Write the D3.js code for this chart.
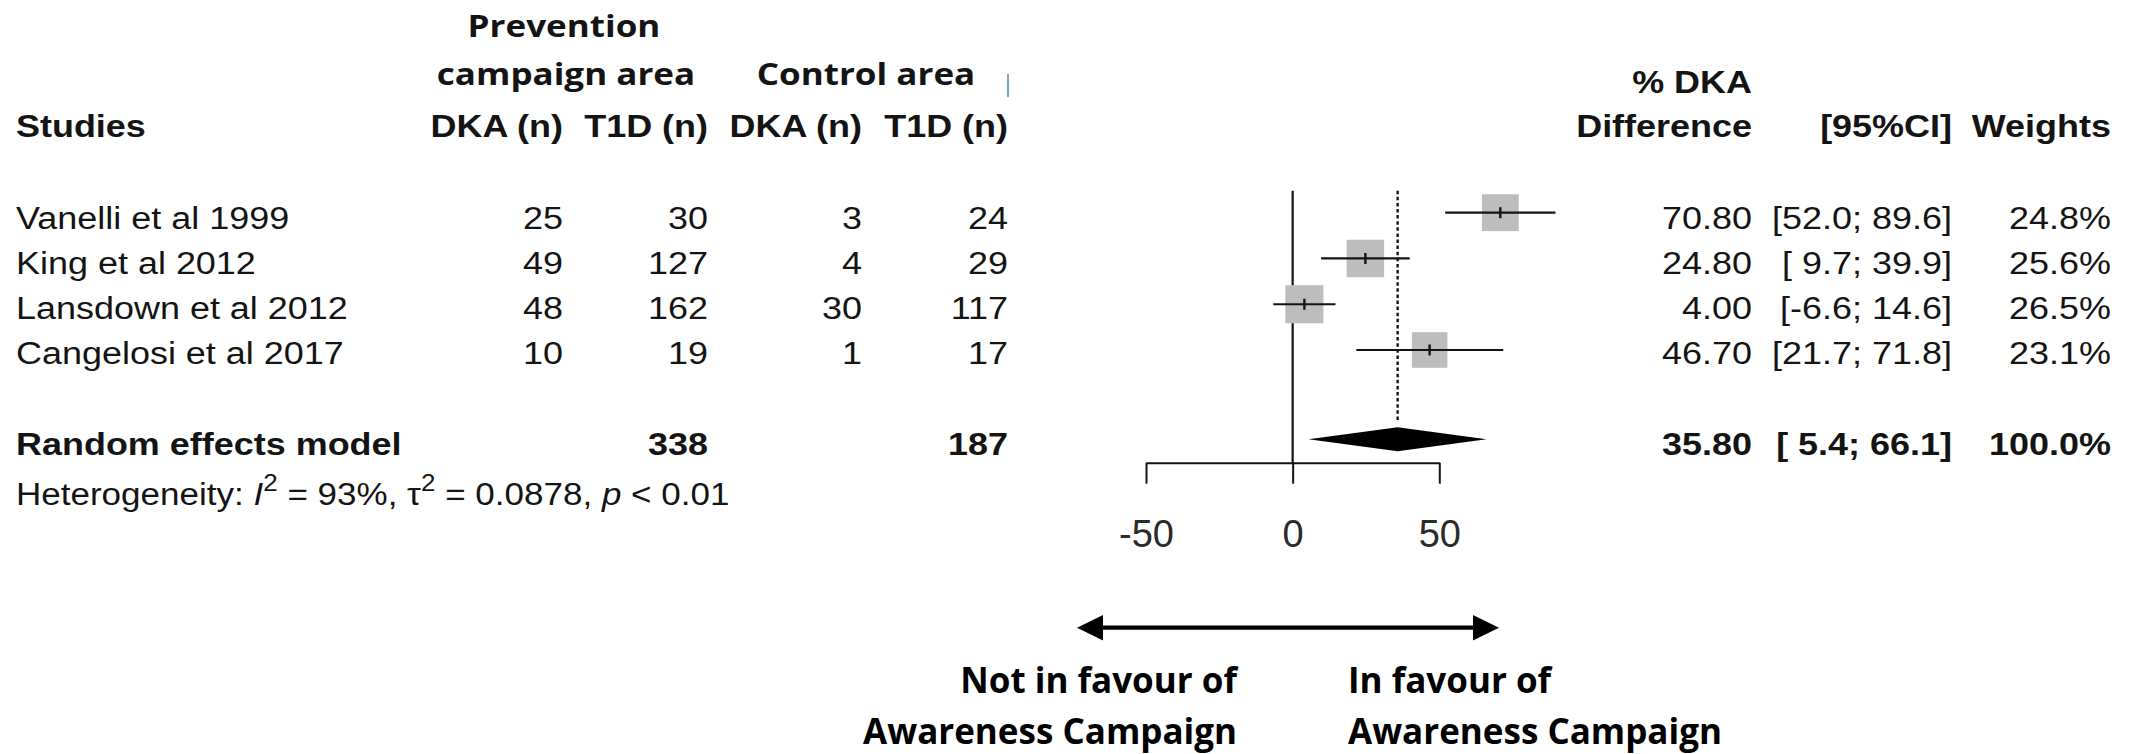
<!DOCTYPE html>
<html>
<head>
<meta charset="utf-8">
<script src="https://cdn.jsdelivr.net/npm/d3@7/dist/d3.min.js"></script>
<style>
  html, body { margin: 0; padding: 0; background: #ffffff; }
  svg { display: block; }
</style>
</head>
<body>
<script>
// ---- Study-level data -------------------------------------------------
const studies      = ["Vanelli et al 1999", "King et al 2012", "Lansdown et al 2012", "Cangelosi et al 2017"];
const dkaCampaign  = [25, 49, 48, 10];
const t1dCampaign  = [30, 127, 162, 19];
const dkaControl   = [3, 4, 30, 1];
const t1dControl   = [24, 29, 117, 17];
const diffEstimate = [70.80, 24.80, 4.00, 46.70];
const ciLower      = [52.0, 9.7, -6.6, 21.7];
const ciUpper      = [89.6, 39.9, 14.6, 71.8];
const weights      = [24.8, 25.6, 26.5, 23.1];

// ---- Pooled (random effects) result -------------------------------------
const pooledLabel    = ["Random effects model"];
const pooledEstimate = [35.80];
const pooledLower    = [5.4];
const pooledUpper    = [66.1];
const pooledWeight   = [100.0];
const totalT1d       = [338, 187];   // campaign area, control area

// ---- Heterogeneity statistics -----------------------------------------
const hetI2   = ["93%"];
const hetTau2 = ["0.0878"];
const hetP    = ["< 0.01"];

// ---- Axis ticks and headers -----------------------------------------------
const xTicks       = [-50, 0, 50];
const countHeaders = ["DKA (n)", "T1D (n)", "DKA (n)", "T1D (n)"];
const groupHeaders = ["Prevention", "campaign area", "Control area"];
const rightHeaders = ["% DKA", "Difference", "[95%CI]", "Weights"];
const directionLeft  = ["Not in favour of", "Awareness Campaign"];
const directionRight = ["In favour of", "Awareness Campaign"];

// ---- Layout ----------------------------------------------------------------
const W = 2133, H = 754;
const ARIAL = "'Liberation Sans', Arial, Helvetica, sans-serif";
const HUMAN = "'Open Sans', 'Noto Sans', sans-serif";
const INK = "#141414";

const svg = d3.select("body").append("svg")
  .attr("width", W).attr("height", H)
  .attr("viewBox", `0 0 ${W} ${H}`);
svg.append("rect").attr("width", W).attr("height", H).attr("fill", "#ffffff");

// Text helper: the table type is set slightly wide, so each label is
// stretched horizontally around its own anchor point.
function label(parent, x, y, s, o = {}) {
  const t = parent.append("text")
    .attr("transform", `translate(${x},${y}) scale(${o.sx ?? 1.16},1)`)
    .attr("text-anchor", o.anchor || "start")
    .attr("font-family", o.family || ARIAL)
    .attr("font-size", o.size || 31)
    .attr("font-weight", o.weight || 400)
    .attr("fill", o.fill || INK)
    .text(s);
  return t;
}

// Column positions (right edges for numeric columns)
const studyX   = 16;
const countRight = [563, 708, 862, 1008];
const estRight = 1752, ciRight = 1952, wRight = 2111;

const headerY  = 137;
const rowY0 = 229.3, rowStep = 45;
const rowBaseline = i => rowY0 + i * rowStep;
const pooledY = 455;
const hetY = 505;

// ---- Left table ------------------------------------------------------------
const table = svg.append("g");

label(table, 564, 37, groupHeaders[0], { family: HUMAN, weight: 700, anchor: "middle", sx: 1.13 });
label(table, 566, 85, groupHeaders[1], { family: HUMAN, weight: 700, anchor: "middle", sx: 1.13 });
label(table, 866, 85, groupHeaders[2], { family: HUMAN, weight: 700, anchor: "middle", sx: 1.13 });
table.append("line")
  .attr("x1", 1008).attr("x2", 1008).attr("y1", 74).attr("y2", 97)
  .attr("stroke", "#7d9fd4").attr("stroke-width", 2);

label(table, studyX, headerY, "Studies", { weight: 700 });
countHeaders.forEach((h, j) =>
  label(table, countRight[j], headerY, h, { weight: 700, anchor: "end" }));

const columns = [dkaCampaign, t1dCampaign, dkaControl, t1dControl];
studies.forEach((s, i) => {
  label(table, studyX, rowBaseline(i), s);
  columns.forEach((col, j) =>
    label(table, countRight[j], rowBaseline(i), String(col[i]), { anchor: "end" }));
});

label(table, studyX, pooledY, pooledLabel[0], { weight: 700 });
label(table, countRight[1], pooledY, String(totalT1d[0]), { weight: 700, anchor: "end" });
label(table, countRight[3], pooledY, String(totalT1d[1]), { weight: 700, anchor: "end" });

// Heterogeneity line with italic symbols and superscripts
const het = label(table, studyX, hetY, "", { sx: 1.13 });
const supSize = 23, supShift = 14;
het.append("tspan").text("Heterogeneity: ");
het.append("tspan").attr("font-style", "italic").text("I");
het.append("tspan").attr("font-size", supSize).attr("dy", -supShift).text("2");
het.append("tspan").attr("dy", supShift).text(` = ${hetI2[0]}, `);
het.append("tspan").text("\u03C4");
het.append("tspan").attr("font-size", supSize).attr("dy", -supShift).text("2");
het.append("tspan").attr("dy", supShift).text(` = ${hetTau2[0]}, `);
het.append("tspan").attr("font-style", "italic").text("p");
het.append("tspan").text(` ${hetP[0]}`);

// ---- Right table -------------------------------------------------------------
const right = svg.append("g");
label(right, estRight, 93, rightHeaders[0], { weight: 700, anchor: "end" });
label(right, estRight, headerY, rightHeaders[1], { weight: 700, anchor: "end" });
label(right, ciRight, headerY, rightHeaders[2], { weight: 700, anchor: "end" });
label(right, wRight, headerY, rightHeaders[3], { weight: 700, anchor: "end" });

const fmtBound = v => { const s = v.toFixed(1); return s.length < 4 ? " " + s : s; };
const fmtCI = (lo, hi) => `[${fmtBound(lo)}; ${fmtBound(hi)}]`;

studies.forEach((s, i) => {
  label(right, estRight, rowBaseline(i), diffEstimate[i].toFixed(2), { anchor: "end" }).attr("xml:space", "preserve");
  label(right, ciRight, rowBaseline(i), fmtCI(ciLower[i], ciUpper[i]), { anchor: "end" }).attr("xml:space", "preserve");
  label(right, wRight, rowBaseline(i), weights[i].toFixed(1) + "%", { anchor: "end" });
});
label(right, estRight, pooledY, pooledEstimate[0].toFixed(2), { weight: 700, anchor: "end" });
label(right, ciRight, pooledY, fmtCI(pooledLower[0], pooledUpper[0]), { weight: 700, anchor: "end" }).attr("xml:space", "preserve");
label(right, wRight, pooledY, pooledWeight[0].toFixed(1) + "%", { weight: 700, anchor: "end" });

// ---- Forest plot -------------------------------------------------------------
const x = d3.scaleLinear().domain([-50, 50]).range([1146, 1439.3]);
const y = d3.scalePoint().domain(studies).range([212.7, 350]);
const pooledRowY = 439.3;
const plotTop = 190.7, axisY = 462.7;
const boxSide = d3.scaleSqrt().domain([0, 100]).range([0, 74]);  // side ∝ sqrt(weight)
const diamondHalf = 12;

const plot = svg.append("g");

// Line of no effect
plot.append("line")
  .attr("x1", x(0)).attr("x2", x(0)).attr("y1", plotTop).attr("y2", axisY)
  .attr("stroke", INK).attr("stroke-width", 2.2);

// Pooled estimate reference line
plot.append("line")
  .attr("x1", x(pooledEstimate[0])).attr("x2", x(pooledEstimate[0]))
  .attr("y1", plotTop).attr("y2", pooledRowY - diamondHalf - 5)
  .attr("stroke", INK).attr("stroke-width", 2.4)
  .attr("stroke-dasharray", "3.5,2.6");

const rows = plot.selectAll("g.study").data(studies).join("g").attr("class", "study");

rows.append("rect")
  .attr("x", (d, i) => x(diffEstimate[i]) - boxSide(weights[i]) / 2)
  .attr("y", (d, i) => y(d) - boxSide(weights[i]) / 2)
  .attr("width", (d, i) => boxSide(weights[i]))
  .attr("height", (d, i) => boxSide(weights[i]))
  .attr("fill", "#bdbdbd");

rows.append("line")
  .attr("x1", (d, i) => x(ciLower[i])).attr("x2", (d, i) => x(ciUpper[i]))
  .attr("y1", d => y(d)).attr("y2", d => y(d))
  .attr("stroke", INK).attr("stroke-width", 2.2);

rows.append("line")
  .attr("x1", (d, i) => x(diffEstimate[i])).attr("x2", (d, i) => x(diffEstimate[i]))
  .attr("y1", d => y(d) - 5.5).attr("y2", d => y(d) + 5.5)
  .attr("stroke", INK).attr("stroke-width", 2.4);

// Pooled diamond
plot.append("path")
  .attr("d", d3.line()([
    [x(pooledLower[0]), pooledRowY],
    [x(pooledEstimate[0]), pooledRowY - diamondHalf],
    [x(pooledUpper[0]), pooledRowY],
    [x(pooledEstimate[0]), pooledRowY + diamondHalf]
  ]) + "Z")
  .attr("fill", "#000");

// Axis
const axis = plot.append("g")
  .attr("transform", `translate(0,${axisY})`)
  .call(d3.axisBottom(x).tickValues(xTicks).tickSize(21).tickSizeOuter(0).tickFormat(d3.format("d")));
axis.select(".domain").attr("stroke", INK).attr("stroke-width", 2);
axis.selectAll(".tick line").attr("stroke", INK).attr("stroke-width", 2);
axis.selectAll(".tick text")
  .attr("y", 84).attr("dy", 0)
  .attr("font-family", ARIAL).attr("font-size", 38)
  .attr("fill", "#2a2a2a")
  .text(d => d < 0 ? "-" + Math.abs(d) : String(d));

// ---- Direction arrow and captions ---------------------------------------
const arrowY = 627.7, arrowL = 1077, arrowR = 1499, headLen = 26, headHalf = 12.8;
const arrow = svg.append("g");
arrow.append("line")
  .attr("x1", arrowL + headLen - 2).attr("x2", arrowR - headLen + 2)
  .attr("y1", arrowY).attr("y2", arrowY)
  .attr("stroke", "#000").attr("stroke-width", 4.2);
arrow.append("path")
  .attr("d", d3.line()([[arrowL, arrowY], [arrowL + headLen, arrowY - headHalf], [arrowL + headLen, arrowY + headHalf]]) + "Z")
  .attr("fill", "#000");
arrow.append("path")
  .attr("d", d3.line()([[arrowR, arrowY], [arrowR - headLen, arrowY - headHalf], [arrowR - headLen, arrowY + headHalf]]) + "Z")
  .attr("fill", "#000");

const capY = [693, 744];
directionLeft.forEach((s, k) =>
  label(svg, 1237, capY[k], s, { family: HUMAN, weight: 700, size: 35, anchor: "end", sx: 1, fill: "#000" }));
directionRight.forEach((s, k) =>
  label(svg, 1348, capY[k], s, { family: HUMAN, weight: 700, size: 35, anchor: "start", sx: 1, fill: "#000" }));
</script>
</body>
</html>
